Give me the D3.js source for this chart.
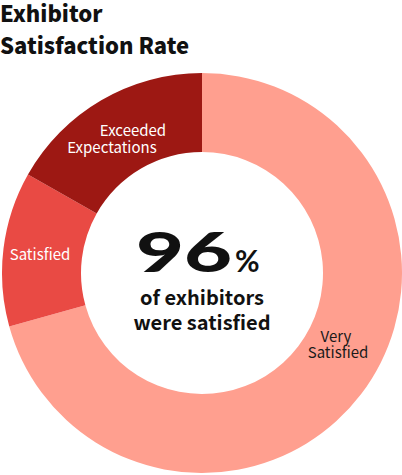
<!DOCTYPE html>
<html><head><meta charset="utf-8">
<script src="https://cdn.jsdelivr.net/npm/d3@7/dist/d3.min.js"></script>
<style>html,body{margin:0;padding:0;background:#fff;}svg{display:block;}</style>
</head><body>
<div id="chart"></div>
<script>
const categories = ["Very Satisfied", "Satisfied", "Exceeded Expectations"];
const values = [70.7, 12.5, 16.8];
const colors = ["#ff9f8f", "#e94a44", "#9d1813"];
const headline = "96";
const subtitle = ["of exhibitors", "were satisfied"];
const title = ["Exhibitor", "Satisfaction Rate"];

const W = 402, H = 475;
const cx = 202, cy = 273, rOuter = 200, rInner = 121;
const FONT = "'Noto Sans CJK JP','Noto Sans',sans-serif";

const svg = d3.select("#chart").append("svg").attr("width", W).attr("height", H);

const pie = d3.pie().sort(null).value(d => d.v).startAngle(0).endAngle(2*Math.PI);
const arc = d3.arc().innerRadius(rInner).outerRadius(rOuter);
const data = categories.map((c,i)=>({c, v: values[i], col: colors[i]}));
const g = svg.append("g").attr("transform", `translate(${cx},${cy})`);
g.selectAll("path").data(pie(data)).join("path").attr("d", arc).attr("fill", d=>d.data.col);

// slice labels
const labelLayout = {
  "Very Satisfied": {lines:[["Very",336,342],["Satisfied",338,358]], fill:"#1a1a1a"},
  "Satisfied": {lines:[["Satisfied",40,260]], fill:"#fff"},
  "Exceeded Expectations": {lines:[["Exceeded",133,136],["Expectations",112,153]], fill:"#fff"}
};
categories.forEach(c=>{
  const L = labelLayout[c];
  L.lines.forEach(([t,x,y])=>{
    svg.append("text").attr("x",x).attr("y",y).attr("text-anchor","middle")
      .attr("font-family",FONT).attr("font-size",15).attr("fill",L.fill).text(t);
  });
});

// title
title.forEach((t,i)=>{
  svg.append("text").attr("x",0).attr("y",22+i*32).attr("font-family",FONT)
    .attr("font-weight",800).attr("font-size",22).attr("fill","#111").text(t);
});

// center
svg.append("text").attr("x",136).attr("y",272).attr("font-family","Lato, 'Noto Sans', sans-serif")
  .attr("font-weight",900).attr("font-size",56).attr("fill","#111")
  .attr("textLength",96).attr("lengthAdjust","spacingAndGlyphs").text(headline);
svg.append("text").attr("x",235).attr("y",272).attr("font-family","Lato, 'Noto Sans', sans-serif")
  .attr("font-weight",700).attr("font-size",30).attr("fill","#111").text("%");
subtitle.forEach((t,i)=>{
  svg.append("text").attr("x",202).attr("y",305+i*25).attr("text-anchor","middle")
    .attr("font-family",FONT).attr("font-weight",700).attr("font-size",20).attr("fill","#111").text(t);
});
</script>
</body></html>
